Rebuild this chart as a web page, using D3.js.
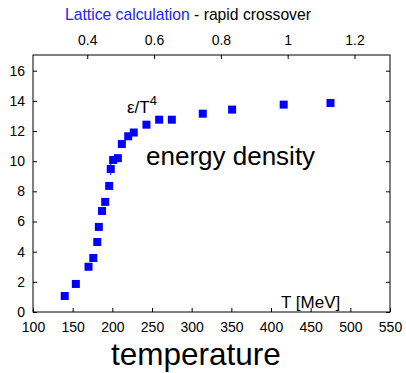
<!DOCTYPE html>
<html>
<head>
<meta charset="utf-8">
<script src="https://cdn.jsdelivr.net/npm/d3@7"></script>
<style>
  body { margin: 0; background: #fff; }
  text { font-family: "Liberation Sans", Arial, sans-serif; }
</style>
</head>
<body>
<div id="chart"></div>
<script>
// lattice points: temperature [MeV], eps/T^4, error
const temps = [140, 154, 170, 176, 181, 183, 187, 191, 196, 198, 201, 207, 212, 220, 227, 243, 259, 275, 314, 351, 416, 475];
const energy = [1.06, 1.86, 3.0, 3.58, 4.64, 5.64, 6.7, 7.3, 8.36, 9.48, 10.08, 10.2, 11.14, 11.65, 11.9, 12.42, 12.75, 12.75, 13.15, 13.42, 13.75, 13.86];
const errs = [0.25, 0.1, 0.1, 0.15, 0.15, 0.15, 0.1, 0.1, 0.1, 0.4, 0.2, 0.15, 0.1, 0.15, 0.1, 0.2, 0.1, 0.1, 0.1, 0.1, 0.1, 0.1];

const xTicks = [100, 150, 200, 250, 300, 350, 400, 450, 500, 550];
const yTicks = [0, 2, 4, 6, 8, 10, 12, 14, 16];
const topTicks = [0.4, 0.6, 0.8, 1, 1.2];
const Tc = 421;

const width = 406, height = 373;
const margin = { left: 33, right: 16, top: 55, bottom: 61 };
const w = width - margin.left - margin.right;
const h = height - margin.top - margin.bottom;

const svg = d3.select('#chart')
  .append('svg')
    .attr('width', width)
    .attr('height', height);

const g = svg.append('g')
  .attr('transform', 'translate(' + margin.left + ',' + margin.top + ')');

const x = d3.scaleLinear().domain([100, 550]).range([0, w]);
const y = d3.scaleLinear().domain([0, 17.04]).range([h, 0]);
const xTop = d3.scaleLinear().domain([100 / Tc, 550 / Tc]).range([0, w]);

const fmt = d => d;

g.append('g')
  .attr('transform', 'translate(0,' + h + ')')
  .call(d3.axisBottom(x).tickValues(xTicks).tickSize(-4).tickPadding(10).tickFormat(fmt));

g.append('g')
  .call(d3.axisLeft(y).tickValues(yTicks).tickSize(-4).tickPadding(8).tickFormat(fmt));

g.append('g')
  .call(d3.axisTop(xTop).tickValues(topTicks).tickSize(-4).tickPadding(10).tickFormat(fmt));

g.append('g')
  .attr('transform', 'translate(' + w + ',0)')
  .call(d3.axisRight(y).tickValues(yTicks).tickSize(-4).tickFormat(''));

g.selectAll('.domain').remove();
g.selectAll('.tick line').attr('stroke', '#000');
g.selectAll('.tick text').attr('font-size', 14).attr('fill', '#000')
  .style('font-family', '"Liberation Sans", Arial, sans-serif');

g.append('rect')
  .attr('width', w)
  .attr('height', h)
  .attr('fill', 'none')
  .attr('stroke', '#000')
  .attr('stroke-width', 1);

const data = temps.map((t, i) => ({ t: t, e: energy[i], err: errs[i] }));

g.selectAll('line.err')
  .data(data)
  .enter()
  .append('line')
  .attr('class', 'err')
  .attr('x1', d => x(d.t))
  .attr('x2', d => x(d.t))
  .attr('y1', d => y(d.e - d.err))
  .attr('y2', d => y(d.e + d.err))
  .attr('stroke', '#0000ff')
  .attr('stroke-width', 1);

const s = 8;
g.selectAll('rect.pt')
  .data(data)
  .enter()
  .append('rect')
  .attr('class', 'pt')
  .attr('x', d => x(d.t) - s / 2)
  .attr('y', d => y(d.e) - s / 2)
  .attr('width', s)
  .attr('height', s)
  .attr('fill', '#0000ff');

// labels
const title = svg.append('text')
  .attr('x', 65)
  .attr('y', 19.5)
  .attr('font-size', 15.7);
title.append('tspan').attr('fill', '#2222ff').text('Lattice calculation');
title.append('tspan').attr('fill', '#000').text(' - rapid crossover');

const eps = svg.append('text')
  .attr('x', 127)
  .attr('y', 113)
  .attr('font-size', 17)
  .attr('fill', '#000');
eps.append('tspan').text('ε/T');
eps.append('tspan').attr('font-size', 13).attr('dy', -8).text('4');

svg.append('text')
  .attr('x', 146)
  .attr('y', 165)
  .attr('font-size', 26)
  .attr('fill', '#000')
  .text('energy density');

svg.append('text')
  .attr('x', 281)
  .attr('y', 308)
  .attr('font-size', 17)
  .attr('fill', '#000')
  .text('T [MeV]');

svg.append('text')
  .attr('x', 111)
  .attr('y', 365)
  .attr('font-size', 31.5)
  .attr('fill', '#000')
  .text('temperature');
</script>
</body>
</html>
